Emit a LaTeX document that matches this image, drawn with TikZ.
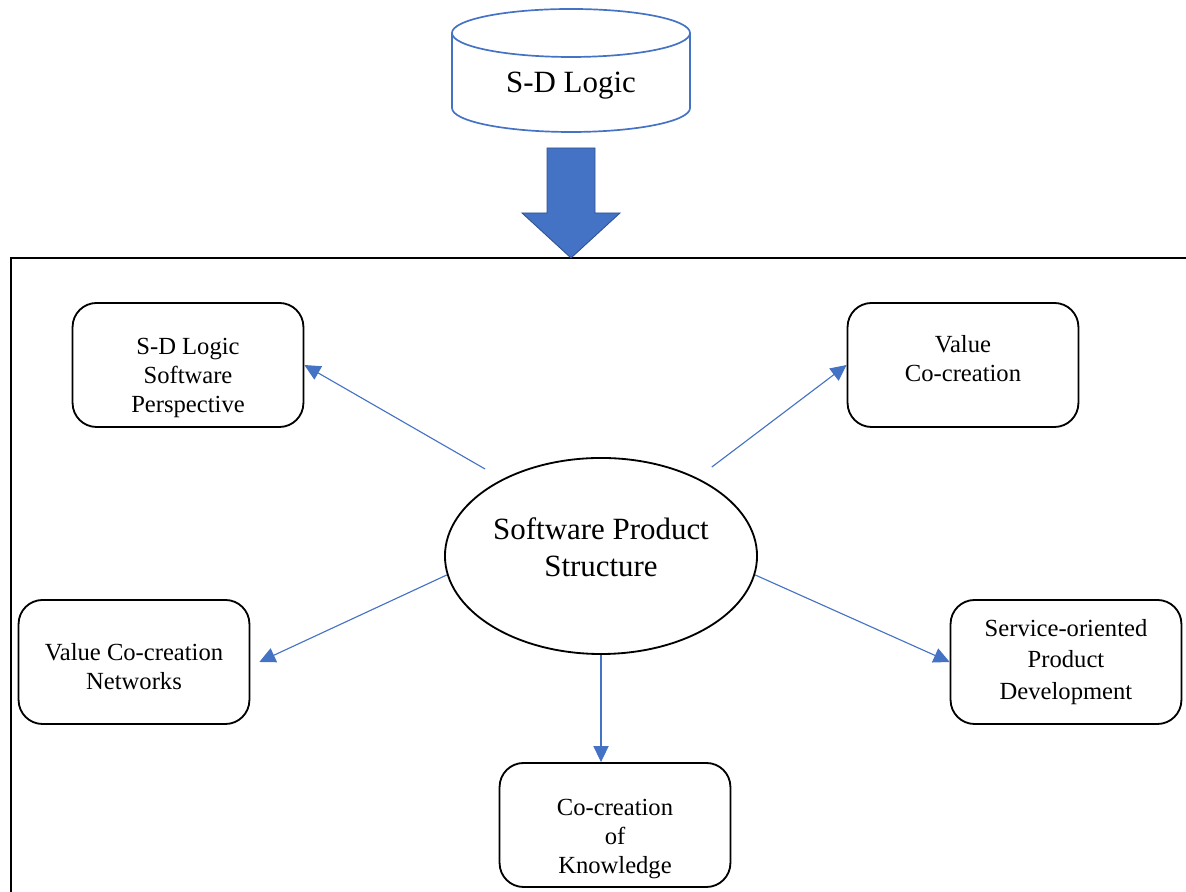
\documentclass[tikz,border=0pt]{standalone}
\usepackage{fontspec}
\setmainfont{Liberation Serif}
\usetikzlibrary{arrows.meta, positioning, shapes, calc}
\definecolor{wordblue}{HTML}{4472C4}
\definecolor{darkblue}{HTML}{2F528F}

\begin{document}
\begin{tikzpicture}[
    x=0.025cm, y=0.025cm,
    box/.style={rectangle, rounded corners=0.6cm, draw, line width=1.3pt, minimum width=5.77cm, minimum height=3.1cm},
    boxtext/.style={align=center, font=\fontsize{17.5}{20.5}\selectfont},
    link/.style={-{Triangle[length=0.4cm, width=0.38cm]}, wordblue, line width=0.8pt},
    big/.style={font=\fontsize{22}{26}\selectfont, align=center}
    ]
    \useasboundingbox (0,0) rectangle (1186,892);

    % Frame
    \draw[line width=1.3pt] (11,0) -- (11,634) -- (1186,634);

    % S-D Logic cylinder
    \draw[wordblue, line width=1.2pt] (452,859) -- (452,784) arc[start angle=180, end angle=360, x radius=2.975cm, y radius=0.6cm] -- (690,859);
    \draw[wordblue, line width=1.2pt] (571,859) ellipse[x radius=2.975cm, y radius=0.6cm];
    \node[big] (sd) at (571,806) {S-D Logic};

    % Block arrow
    \filldraw[fill=wordblue, draw=darkblue, line width=0.6pt] (547,744) -- (595,744) -- (595,679) -- (620,679) -- (571,634) -- (522,679) -- (547,679) -- cycle;

    % Centre
    \node[ellipse, draw, line width=1.3pt, minimum width=7.8cm, minimum height=4.9cm, inner sep=0pt,
        label={[big, yshift=0.22cm]center:Software Product\\Structure}] (sps) at (601,336) {};

    % Boxes
    \node[box, label={[boxtext, yshift=-0.33cm]center:S-D Logic\\Software\\Perspective}] (sdsp) at (188,527) {};
    \node[box, label={[boxtext, yshift=0.15cm]center:Value\\Co-creation}] (vcc) at (963,527) {};
    \node[box, label={[boxtext, yshift=-0.12cm]center:Value Co-creation\\Networks}] (vcn) at (134,230) {};
    \node[box, label={[boxtext, font=\fontsize{17.5}{22.5}\selectfont]center:Service-oriented\\Product\\Development}] (spd) at (1066,230) {};
    \node[box, label={[boxtext, yshift=-0.35cm]center:Co-creation\\of\\Knowledge}] (cok) at (615,67) {};

    % Links
    \draw[link, shorten <=0.5cm] (sps.142) -- (sdsp.east);
    \draw[link, shorten <=0.45cm] (sps.39) -- (vcc.west);
    \draw[link] (sps.187) -- ($(vcn.east)+(9,0)$);
    \draw[link] (sps.-7) -- (spd.west);
    \draw[link] (sps.south) -- (sps.south |- cok.north);

\end{tikzpicture}
\end{document}
